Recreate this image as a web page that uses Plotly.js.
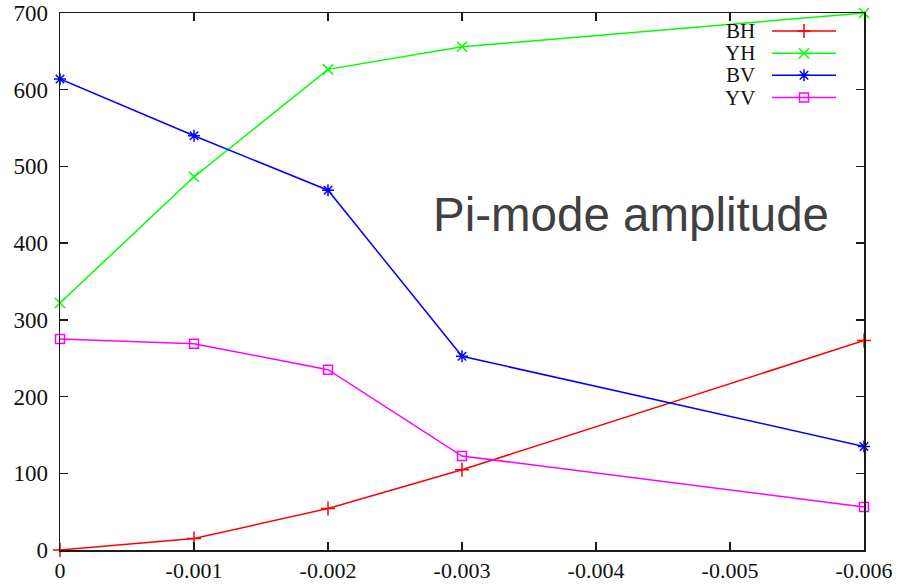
<!DOCTYPE html>
<html>
<head>
<meta charset="utf-8">
<script src="https://cdn.plot.ly/plotly-3.0.1.min.js"></script>
<style>html,body{margin:0;padding:0;background:#fff;} #chart{width:898px;height:584px;}</style>
</head>
<body>
<div id="chart"></div>
<script>
// ---- data ----
const xValues = [0, -0.001, -0.002, -0.003, -0.006];
const seriesNames = ["BH", "YH", "BV", "YV"];
const bhValues = [0, 15, 54, 104.5, 273];
const yhValues = [322, 486.5, 626.5, 656, 700];
const bvValues = [614, 540, 469, 252.5, 135];
const yvValues = [275, 269, 235, 122.5, 56];
const xTickValues = [0, -0.001, -0.002, -0.003, -0.004, -0.005, -0.006];
const xTickLabels = ["0", "-0.001", "-0.002", "-0.003", "-0.004", "-0.005", "-0.006"];
const yTickValues = [0, 100, 200, 300, 400, 500, 600, 700];
const annotationText = "Pi-mode amplitude";

// ---- styles ----
const colors = ["#ff0000", "#00ff00", "#0000ff", "#ff00ff"];
const symbols = ["cross-thin-open", "x-thin-open", "asterisk-open", "square-open"];
const markerSizes = [10, 10, 10, 9];
const serif = "Liberation Serif, Times New Roman, serif";
const allValues = [bhValues, yhValues, bvValues, yvValues];

const traces = allValues.map((vals, i) => ({
  x: xValues, y: vals, name: seriesNames[i], type: "scatter", mode: "lines+markers",
  line: {color: colors[i], width: 1.5},
  marker: {symbol: symbols[i], size: markerSizes[i], color: colors[i], line: {color: colors[i], width: 1.5}},
  cliponaxis: false, showlegend: false
}));

// custom gnuplot-style legend (text left of sample)
const legendTopPx = 31, legendStepPx = 22.2, plotTopPx = 13, plotHeightPx = 537.5;
const legendRowsY = seriesNames.map((_, i) => 1 - (legendTopPx + i * legendStepPx - plotTopPx) / plotHeightPx);
const legendLineX = [0.8856, 0.9652];
const legendTextX = 0.867;
const annotations = [];
seriesNames.forEach((name, i) => {
  const yy = legendRowsY[i];
  traces.push({
    x: legendLineX, y: [yy, yy], xaxis: "x2", yaxis: "y2", type: "scatter", mode: "lines",
    line: {color: colors[i], width: 1.5}, showlegend: false, hoverinfo: "skip", cliponaxis: false
  });
  traces.push({
    x: [(legendLineX[0] + legendLineX[1]) / 2], y: [yy], xaxis: "x2", yaxis: "y2", type: "scatter", mode: "markers",
    marker: {symbol: symbols[i], size: markerSizes[i], color: colors[i], line: {color: colors[i], width: 1.5}},
    showlegend: false, hoverinfo: "skip", cliponaxis: false
  });
  annotations.push({
    text: name, xref: "paper", yref: "paper", x: legendTextX, y: yy, xanchor: "right", yanchor: "middle",
    showarrow: false, font: {family: serif, size: 21, color: "#111"}
  });
});
annotations.push({
  text: annotationText, xref: "paper", yref: "paper", x: 0.4615, y: 0.625, xanchor: "left", yanchor: "middle",
  showarrow: false, font: {family: "Liberation Sans, Arial, sans-serif", size: 47.5, color: "#404040"}
});

const axisCommon = {
  showline: true, linecolor: "#1a1a1a", linewidth: 1.5, mirror: "ticks",
  ticks: "inside", ticklen: 8, tickwidth: 1.3, tickcolor: "#1a1a1a",
  showgrid: false, zeroline: false
};

const layout = {
  width: 898, height: 584,
  margin: {l: 60, r: 34, t: 13, b: 34},
  paper_bgcolor: "#fff", plot_bgcolor: "#fff",
  xaxis: Object.assign({}, axisCommon, {
    range: [0, -0.006], autorange: false, tickmode: "array",
    tickvals: xTickValues, ticktext: xTickLabels,
    tickfont: {family: serif, size: 22, color: "#111"}
  }),
  yaxis: Object.assign({}, axisCommon, {
    range: [0, 700], autorange: false, tickmode: "array", tickvals: yTickValues,
    ticktext: yTickValues.map(String), ticklabelstandoff: 6,
    tickfont: {family: serif, size: 23, color: "#111"}
  }),
  xaxis2: {overlaying: "x", range: [0, 1], visible: false, fixedrange: true},
  yaxis2: {overlaying: "y", range: [0, 1], visible: false, fixedrange: true},
  annotations: annotations,
  showlegend: false
};

Plotly.newPlot("chart", traces, layout, {staticPlot: true, displayModeBar: false});
</script>
</body>
</html>
